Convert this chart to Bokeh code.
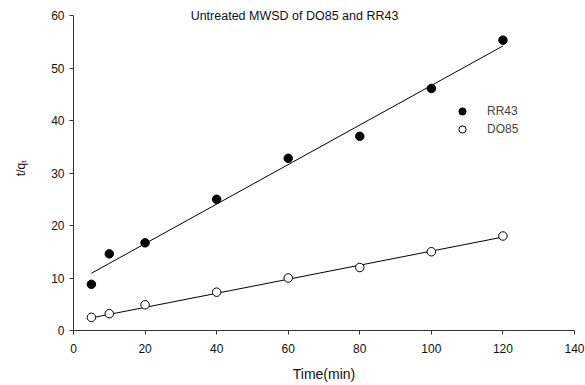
from bokeh.plotting import figure
from bokeh.models import Label, Legend, LegendItem, Range1d, FixedTicker
from bokeh.embed import file_html
from bokeh.resources import INLINE

# data
time_min = [5, 10, 20, 40, 60, 80, 100, 120]
rr43 = [8.8, 14.6, 16.7, 25.0, 32.8, 37.0, 46.1, 55.3]
do85 = [2.5, 3.2, 4.9, 7.3, 10.0, 12.0, 15.0, 18.0]
fit_x = [5, 120]
rr43_fit = [10.9, 54.2]
do85_fit = [2.4, 17.8]
x_ticks = [0, 20, 40, 60, 80, 100, 120, 140]
y_ticks = [0, 10, 20, 30, 40, 50, 60]

FONT = "Liberation Sans"

p = figure(width=585, height=385, output_backend="svg", toolbar_location=None,
           x_range=Range1d(0, 140), y_range=Range1d(0, 61.905),
           min_border_left=73, min_border_right=11, min_border_top=5, min_border_bottom=55)
p.outline_line_color = None
p.xgrid.visible = False
p.ygrid.visible = False
p.background_fill_color = "white"
p.border_fill_color = "white"

for ax, ticks in ((p.xaxis, x_ticks), (p.yaxis, y_ticks)):
    ax.ticker = FixedTicker(ticks=ticks)
    ax.minor_tick_line_color = None
    ax.major_tick_in = 0
    ax.major_tick_out = 4
    ax.axis_line_color = "#333333"
    ax.major_tick_line_color = "#333333"
    ax.major_label_text_font = FONT
    ax.major_label_text_font_size = "12px"
    ax.major_label_text_color = "#111111"
    ax.axis_label_text_font = FONT
    ax.axis_label_text_font_style = "normal"
    ax.axis_label_text_color = "#111111"

p.yaxis.bounds = (0, 60)
p.xaxis.major_label_standoff = 9
p.yaxis.major_label_standoff = 5
p.xaxis.axis_label = "Time(min)"
p.xaxis.axis_label_text_font_size = "14px"
p.xaxis.axis_label_standoff = 10
p.yaxis.axis_label = "t/q\u209c"
p.yaxis.axis_label_text_font_size = "12px"
p.yaxis.axis_label_standoff = 20

p.line(fit_x, rr43_fit, line_color="black", line_width=1)
p.line(fit_x, do85_fit, line_color="black", line_width=1)
r1 = p.scatter(time_min, rr43, size=8.5, fill_color="black", line_color="black")
r2 = p.scatter(time_min, do85, size=8.5, fill_color="white", line_color="black", line_width=1)

legend = Legend(items=[LegendItem(label="RR43", renderers=[r1]),
                       LegendItem(label="DO85", renderers=[r2])],
                location=(380, 192), orientation="vertical",
                glyph_width=18, glyph_height=18, spacing=-2, padding=0, margin=0,
                label_standoff=16, label_text_font=FONT, label_text_font_size="12px",
                label_height=18,
                border_line_color=None, background_fill_alpha=0)
p.add_layout(legend, "center")

p.add_layout(Label(x=221, y=315, x_units="screen", y_units="screen",
                   text="Untreated MWSD of DO85 and RR43", text_font=FONT,
                   text_font_size="12.5px", text_align="center", text_baseline="middle",
                   text_color="#111111"))

open("out.html", "w").write(file_html(p, INLINE))
